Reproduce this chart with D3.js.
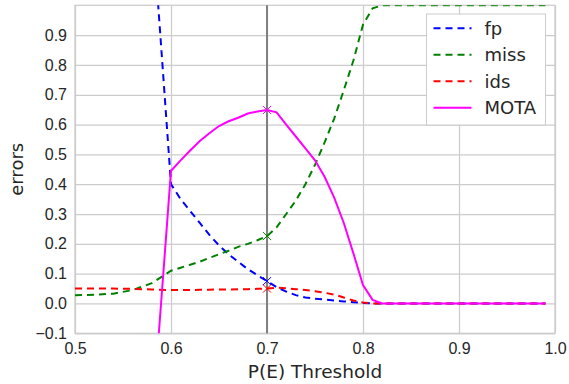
<!DOCTYPE html>
<html>
<head>
<meta charset="utf-8">
<script src="https://cdn.jsdelivr.net/npm/d3@7/dist/d3.min.js"></script>
<style>
  html, body { margin: 0; padding: 0; background: #fff; }
  svg { display: block; font-family: "DejaVu Sans", sans-serif; }
</style>
</head>
<body>
<svg id="chart" width="569" height="384"></svg>
<script>
(function() {

  'use strict';

  // thresholds on the x axis (0.59 is not in the run)
  var thresholds = [0.50, 0.52, 0.54, 0.56, 0.58,
    0.60, 0.61, 0.62, 0.63, 0.64, 0.65, 0.66, 0.67, 0.68, 0.69,
    0.70, 0.71, 0.72, 0.73, 0.74, 0.75, 0.76, 0.77, 0.78, 0.79,
    0.80, 0.81, 0.82, 0.83, 0.84, 0.85, 0.86, 0.87, 0.88, 0.89,
    0.90, 0.91, 0.92, 0.93, 0.94, 0.95, 0.96, 0.97, 0.98, 0.99];

  var fp = [4.5, 3.6, 2.8, 2.0, 1.3,
    0.40, 0.35, 0.31, 0.27, 0.23, 0.195, 0.165, 0.14, 0.115, 0.095,
    0.075, 0.055, 0.04, 0.028, 0.02, 0.016, 0.013, 0.01, 0.007, 0.004,
    0.002, 0, 0, 0, 0, 0, 0, 0, 0, 0,
    0, 0, 0, 0, 0, 0, 0, 0, 0, 0];

  var miss = [0.028, 0.029, 0.033, 0.045, 0.068,
    0.11, 0.12, 0.13, 0.14, 0.153, 0.165, 0.177, 0.19, 0.20, 0.212,
    0.226, 0.255, 0.30, 0.345, 0.40, 0.465, 0.54, 0.62, 0.715, 0.815,
    0.935, 0.99, 1, 1, 1, 1, 1, 1, 1, 1,
    1, 1, 1, 1, 1, 1, 1, 1, 1, 1];

  var ids = [0.05, 0.05, 0.05, 0.049, 0.047,
    0.045, 0.045, 0.045, 0.046, 0.046, 0.047, 0.047, 0.048, 0.048, 0.049,
    0.05, 0.053, 0.051, 0.048, 0.045, 0.041, 0.036, 0.03, 0.02, 0.01,
    0.003, 0, 0, 0, 0, 0, 0, 0, 0, 0,
    0, 0, 0, 0, 0, 0, 0, 0, 0, 0];

  var mota = [-3.578, -2.679, -1.883, -1.094, -0.415,
    0.445, 0.48, 0.513, 0.545, 0.571, 0.595, 0.611, 0.623, 0.637, 0.644,
    0.649, 0.641, 0.60, 0.56, 0.52, 0.48, 0.425, 0.355, 0.27, 0.168,
    0.062, 0.012, 0, 0, 0, 0, 0, 0, 0, 0,
    0, 0, 0, 0, 0, 0, 0, 0, 0, 0];

  var xTicks = [0.5, 0.6, 0.7, 0.8, 0.9, 1.0];
  var yTicks = [-0.1, 0.0, 0.1, 0.2, 0.3, 0.4, 0.5, 0.6, 0.7, 0.8, 0.9];
  var marked = 0.7;

  var series = [
    { name: 'fp', values: fp, colour: '#0000ff', dashed: true },
    { name: 'miss', values: miss, colour: '#008000', dashed: true },
    { name: 'ids', values: ids, colour: '#ff0000', dashed: true },
    { name: 'MOTA', values: mota, colour: '#ff00ff', dashed: false }
  ];

  /**
   * layout
   */
  var m = { left: 75, top: 5.3, right: 555, bottom: 333.3 };
  var w = m.right - m.left;
  var h = m.bottom - m.top;
  var textColour = '#262626';
  var gridColour = '#cccccc';

  var svg = d3.select('#chart');
  var g = svg.append('g').attr('transform', 'translate(' + m.left + ',' + m.top + ')');

  var x = d3.scaleLinear().domain([0.5, 1.0]).range([0, w]);
  var y = d3.scaleLinear().domain([-0.1, 1.0]).range([h, 0]);

  svg.append('defs').append('clipPath').attr('id', 'plot-clip')
    .append('rect').attr('width', w).attr('height', h);

  // grid
  g.append('g')
    .call(d3.axisBottom(x).tickValues(xTicks).tickSize(h).tickFormat(''))
    .call(function(s) {
      s.select('.domain').remove();
      s.selectAll('line').attr('stroke', gridColour).attr('stroke-width', 1.25);
    });
  g.append('g')
    .call(d3.axisLeft(y).tickValues(yTicks).tickSize(-w).tickFormat(''))
    .call(function(s) {
      s.select('.domain').remove();
      s.selectAll('line').attr('stroke', gridColour).attr('stroke-width', 1.25);
    });

  // frame
  g.append('rect')
    .attr('width', w).attr('height', h)
    .attr('fill', 'none').attr('stroke', gridColour).attr('stroke-width', 1.25);

  // marked threshold
  g.append('line')
    .attr('x1', x(marked)).attr('x2', x(marked))
    .attr('y1', 0).attr('y2', h)
    .attr('stroke', '#808080').attr('stroke-width', 2);

  // lines
  var line = d3.line()
    .x(function(d, i) { return x(thresholds[i]); })
    .y(function(d) { return y(d); });

  var plot = g.append('g').attr('clip-path', 'url(#plot-clip)');
  var markIndex = thresholds.indexOf(marked);

  series.forEach(function(s) {
    plot.append('path')
      .attr('d', line(s.values))
      .attr('fill', 'none')
      .attr('stroke', s.colour)
      .attr('stroke-width', 2)
      .attr('stroke-dasharray', s.dashed ? '7,5' : null);
  });

  series.forEach(function(s) {
    var cx = x(thresholds[markIndex]);
    var cy = y(s.values[markIndex]);
    var r = 4;
    plot.append('path')
      .attr('d', 'M' + (cx - r) + ',' + (cy - r) + 'L' + (cx + r) + ',' + (cy + r) +
                 'M' + (cx - r) + ',' + (cy + r) + 'L' + (cx + r) + ',' + (cy - r))
      .attr('stroke', s.colour)
      .attr('stroke-width', 1);
  });

  // axes
  g.append('g')
    .attr('transform', 'translate(0,' + h + ')')
    .call(d3.axisBottom(x).tickValues(xTicks).tickSize(0).tickPadding(9.5).tickFormat(d3.format('.1f')))
    .call(function(s) {
      s.select('.domain').remove();
      s.selectAll('text').attr('fill', textColour).style('font-size', '16px');
    });

  g.append('g')
    .call(d3.axisLeft(y).tickValues(yTicks).tickSize(0).tickPadding(8)
      .tickFormat(function(d) { return d3.format('.1f')(d).replace('-', '\u2212'); }))
    .call(function(s) {
      s.select('.domain').remove();
      s.selectAll('text').attr('fill', textColour).style('font-size', '16px');
    });

  // axis labels
  svg.append('text')
    .attr('x', m.left + w / 2).attr('y', 378)
    .attr('text-anchor', 'middle')
    .attr('fill', textColour)
    .style('font-size', '18.5px')
    .text('P(E) Threshold');

  svg.append('text')
    .attr('transform', 'translate(23,' + (m.top + h / 2) + ') rotate(-90)')
    .attr('text-anchor', 'middle')
    .attr('fill', textColour)
    .style('font-size', '18px')
    .text('errors');

  // legend
  var legend = svg.append('g').attr('transform', 'translate(426.5,14)');
  legend.append('rect')
    .attr('width', 119).attr('height', 111)
    .attr('fill', '#fff').attr('stroke', gridColour).attr('stroke-width', 1);

  series.forEach(function(s, i) {
    var ry = 14.3 + i * 26.5;
    legend.append('line')
      .attr('x1', 7).attr('x2', 45)
      .attr('y1', ry).attr('y2', ry)
      .attr('stroke', s.colour).attr('stroke-width', 2)
      .attr('stroke-dasharray', s.dashed ? '7,5' : null);
    legend.append('text')
      .attr('x', 58).attr('y', ry).attr('dy', '0.36em')
      .attr('fill', textColour)
      .style('font-size', '18px')
      .text(s.name);
  });

})();
</script>
</body>
</html>
